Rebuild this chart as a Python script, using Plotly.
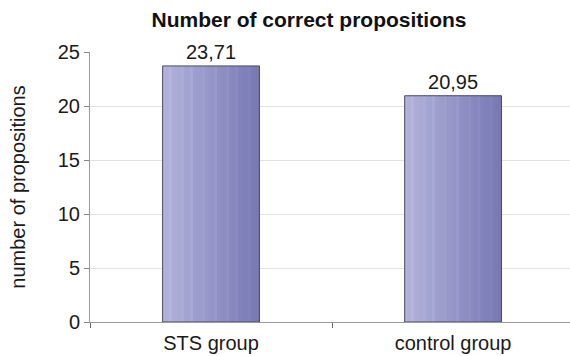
import plotly.graph_objects as go

# Data
groups = ["STS group", "control group"]
scores = [23.71, 20.95]
y_ticks = [0, 5, 10, 15, 20, 25]

FONT = "Liberation Sans, Arial, sans-serif"
BAR_WIDTH = 0.4
N_SLICES = 32

# horizontal shading of the bars: light lavender on the left, deeper blue-violet on the right
left_rgb = (178, 178, 218)
right_rgb = (120, 120, 180)
# a few faint lighter vertical streaks inside the bar
streaks = {2: 7, 6: 5, 9: 8, 13: 4, 17: 7, 21: 5, 24: 6, 28: 4}


def slice_color(i):
    t = i / (N_SLICES - 1)
    boost = streaks.get(i, 0)
    r, g, b = (round(a + (c - a) * t) + boost for a, c in zip(left_rgb, right_rgb))
    return f"rgb({min(r,255)},{min(g,255)},{min(b,255)})"


fig = go.Figure()
step = BAR_WIDTH / N_SLICES
for i in range(N_SLICES):
    start = i * step
    w = min(step * 1.6, BAR_WIDTH - start)
    fig.add_bar(
        x=groups, y=scores,
        width=w,
        offset=-BAR_WIDTH / 2 + start,
        marker=dict(color=slice_color(i), line=dict(width=0)),
        hoverinfo="skip", showlegend=False,
    )

# outline and value labels
fig.add_bar(
    x=groups, y=scores,
    width=BAR_WIDTH, offset=-BAR_WIDTH / 2,
    marker=dict(color="rgba(0,0,0,0)", line=dict(color="#4a4a68", width=1)),
    texttemplate="%{y:.2f}", textposition="outside",
    textfont=dict(family=FONT, size=20, color="#1a1a1a"),
    cliponaxis=False, showlegend=False,
)

fig.update_layout(
    width=570, height=356,
    margin=dict(l=90, r=0, t=52, b=34),
    barmode="overlay",
    separators=", ",
    plot_bgcolor="white", paper_bgcolor="white",
    font=dict(family=FONT, color="#1a1a1a"),
    title=dict(
        text="<b>Number of correct propositions</b>",
        x=309 / 570, xanchor="center", xref="container",
        y=1 - 20 / 356, yanchor="middle", yref="container",
        font=dict(family=FONT, size=21, color="#111111"),
    ),
)

fig.update_xaxes(
    type="category",
    range=[-0.5, 1.483],
    tickson="boundaries",
    ticks="outside", ticklen=5, tickcolor="#666666", tickwidth=1,
    showline=True, linecolor="#999999", linewidth=1,
    showgrid=False,
    tickfont=dict(family=FONT, size=20, color="#1a1a1a"),
    ticklabelstandoff=3,
    automargin=False,
)

fig.update_yaxes(
    range=[0, 25],
    tickvals=y_ticks,
    ticks="outside", ticklen=5, tickcolor="#888888", tickwidth=1,
    showline=True, linecolor="#999999", linewidth=1,
    showgrid=True, gridcolor="#e2e2e2", gridwidth=1,
    zeroline=False,
    tickfont=dict(family=FONT, size=20, color="#1a1a1a"),
    title=dict(text="number of propositions", standoff=26,
               font=dict(family=FONT, size=20, color="#1a1a1a")),
    automargin=False,
)

fig.write_html("out.html")
